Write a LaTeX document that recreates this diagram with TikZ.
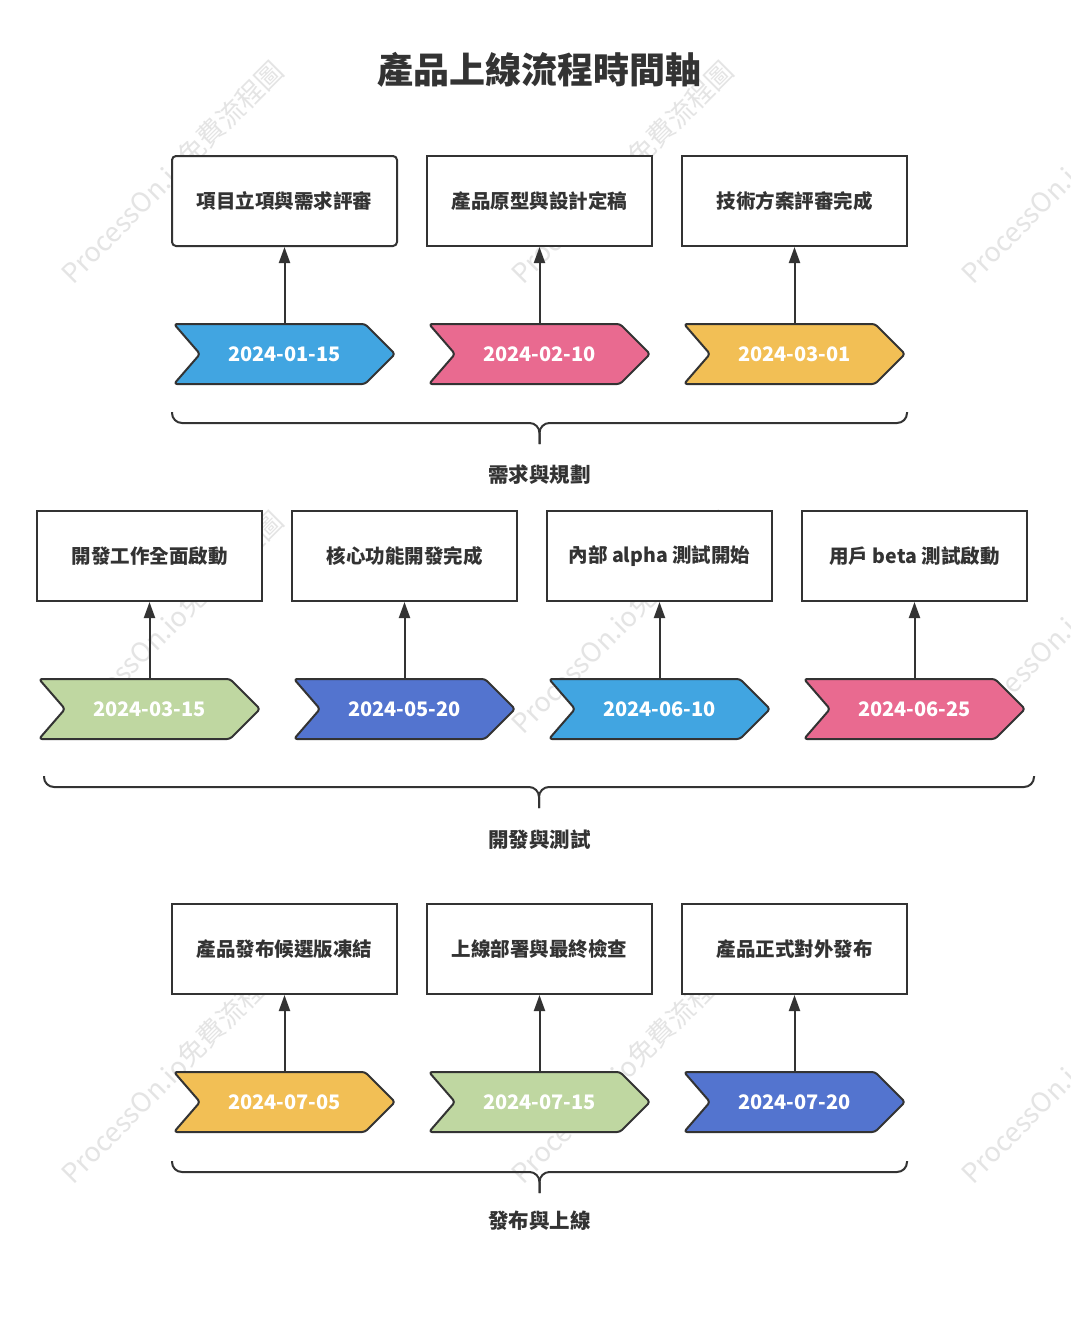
\documentclass[tikz,border=0pt]{standalone}
\usepackage{fontspec}
\setmainfont{Noto Sans CJK TC}
\usetikzlibrary{arrows.meta}
\definecolor{ink}{HTML}{333333}
\definecolor{cblue}{HTML}{41A5E1}
\definecolor{cpink}{HTML}{E96A90}
\definecolor{cyellow}{HTML}{F2BF55}
\definecolor{cgreen}{HTML}{BFD7A1}
\definecolor{cindigo}{HTML}{5374CF}
\definecolor{wmgray}{HTML}{E4E4E4}
\tikzset{
  evbox/.style={draw=ink, line width=2pt, fill=white, minimum width=225pt, minimum height=90pt, inner sep=0pt,
    font=\fontsize{19.5}{22}\selectfont\bfseries, text=ink},
  datelabel/.style={minimum width=221pt, minimum height=60pt, inner sep=0pt, text=white,
    font=\fontsize{20}{24}\selectfont\bfseries},
  chevshape/.style={draw=ink, line width=2pt, rounded corners=3pt, line join=round},
  conn/.style={draw=ink, line width=2pt, -{Triangle[length=16pt,width=11pt]}},
  bracestyle/.style={draw=ink, line width=2pt, rounded corners=10pt},
  grouplabel/.style={text=ink, font=\fontsize{20.5}{23}\selectfont\bfseries},
  wm/.style={text=wmgray, rotate=45, font=\fontsize{27}{30}\selectfont}
}
\newcommand\lw[1]{\raisebox{-2pt}{#1}}
\newcommand\mychev[5]{%
  \draw[chevshape, fill=#4] (#2,#3) ++(-110.5,-30) -- ++(191,0) -- ++(30,30) -- ++(-30,30) -- ++(-191,0) -- ++(26,-30) -- cycle;
  \node[datelabel] (#1) at (#2,#3) {\lw{#5}};}
\newcommand\mybrace[5]{% left x, right x, top y, line y, tip y
  \pgfmathsetmacro\bmid{(#1+#2)/2}%
  \draw[bracestyle] (#1,#3) -- (#1,#4) -- (\bmid,#4) -- (\bmid,#5);
  \draw[bracestyle] (#2,#3) -- (#2,#4) -- (\bmid,#4) -- (\bmid,#5);}
\begin{document}
\begin{tikzpicture}[x=1pt,y=-1pt]
\useasboundingbox[fill=white] (0,0) rectangle (1071,1318);

% watermarks
\foreach \wy in {172,622,1072}{
  \foreach \wx in {172,622,1072}{
    \node[wm] at (\wx,\wy) {ProcessOn.io免費流程圖};
  }
}

\node[text=ink, font=\fontsize{36}{40}\selectfont\bfseries] (title) at (539.5,70) {產品上線流程時間軸};

% row 1
\node[evbox, rounded corners=4pt] (b1) at (284.5,201) {\lw{項目立項與需求評審}};
\node[evbox] (b2) at (539.5,201) {\lw{產品原型與設計定稿}};
\node[evbox] (b3) at (794.5,201) {\lw{技術方案評審完成}};
\mychev{c1}{284.5}{354}{cblue}{2024-01-15}
\mychev{c2}{539.5}{354}{cpink}{2024-02-10}
\mychev{c3}{794.5}{354}{cyellow}{2024-03-01}
\draw[conn] (c1.north) -- (b1.south);
\draw[conn] (c2.north) -- (b2.south);
\draw[conn] (c3.north) -- (b3.south);
\mybrace{172}{907}{412}{423}{444}
\node[grouplabel] (l1) at (539.5,475) {需求與規劃};

% row 2
\node[evbox] (b4) at (149.5,556) {\lw{開發工作全面啟動}};
\node[evbox] (b5) at (404.5,556) {\lw{核心功能開發完成}};
\node[evbox] (b6) at (659.5,556) {\lw{內部 alpha 測試開始}};
\node[evbox] (b7) at (914.5,556) {\lw{用戶 beta 測試啟動}};
\mychev{c4}{149.5}{709}{cgreen}{2024-03-15}
\mychev{c5}{404.5}{709}{cindigo}{2024-05-20}
\mychev{c6}{659.5}{709}{cblue}{2024-06-10}
\mychev{c7}{914.5}{709}{cpink}{2024-06-25}
\draw[conn] (c4.north) -- (b4.south);
\draw[conn] (c5.north) -- (b5.south);
\draw[conn] (c6.north) -- (b6.south);
\draw[conn] (c7.north) -- (b7.south);
\mybrace{44}{1034}{776}{787}{808}
\node[grouplabel] (l2) at (539.5,840) {開發與測試};

% row 3
\node[evbox] (b8) at (284.5,949) {\lw{產品發布候選版凍結}};
\node[evbox] (b9) at (539.5,949) {\lw{上線部署與最終檢查}};
\node[evbox] (b10) at (794.5,949) {\lw{產品正式對外發布}};
\mychev{c8}{284.5}{1102}{cyellow}{2024-07-05}
\mychev{c9}{539.5}{1102}{cgreen}{2024-07-15}
\mychev{c10}{794.5}{1102}{cindigo}{2024-07-20}
\draw[conn] (c8.north) -- (b8.south);
\draw[conn] (c9.north) -- (b9.south);
\draw[conn] (c10.north) -- (b10.south);
\mybrace{172}{907}{1161}{1172}{1193}
\node[grouplabel] (l3) at (539.5,1221) {發布與上線};
\end{tikzpicture}
\end{document}
